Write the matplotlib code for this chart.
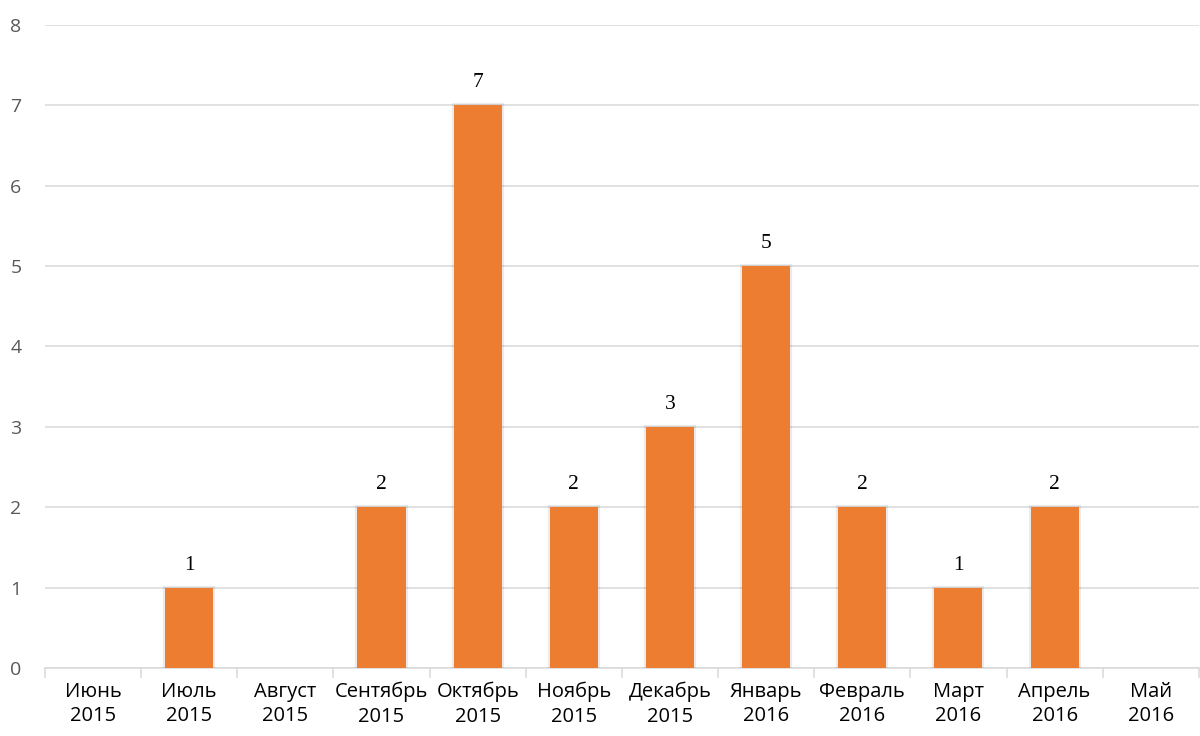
import matplotlib.pyplot as plt
import matplotlib.patheffects as pe
import numpy as np

months = ["Июнь\n2015", "Июль\n2015", "Август\n2015", "Сентябрь\n2015",
          "Октябрь\n2015", "Ноябрь\n2015", "Декабрь\n2015", "Январь\n2016",
          "Февраль\n2016", "Март\n2016", "Апрель\n2016", "Май\n2016"]
counts = [0, 1, 0, 2, 7, 2, 3, 5, 2, 1, 2, 0]
y_ticks = [0, 1, 2, 3, 4, 5, 6, 7, 8]

BAR_COLOR = "#ED7D31"
GRID_COLOR = "#D9D9D9"

fig = plt.figure(figsize=(12, 7.36), dpi=100)
ax = fig.add_axes([0.0375, 0.0924, 0.9615, 0.874])

x = np.arange(len(months))
bars = ax.bar(x, counts, width=0.5, color=BAR_COLOR, zorder=3)
# faint soft edge, like the Excel bar shadow (skip empty months)
for b, v in zip(bars, counts):
    if v > 0:
        b.set_path_effects([pe.Stroke(linewidth=3, foreground="#000000", alpha=0.08),
                            pe.Normal()])
    else:
        b.set_visible(False)

for xi, v in zip(x, counts):
    if v > 0:
        ax.text(xi, v + 0.16, str(v), ha="center", va="bottom",
                family="Liberation Serif", fontsize=15.5, color="black")

ax.set_xlim(-0.5, len(months) - 0.5)
ax.set_ylim(0, 8)
ax.set_yticks(y_ticks)
ax.yaxis.grid(True, color=GRID_COLOR, linewidth=1.1, zorder=0)
ax.set_axisbelow(True)

ax.set_xticks(x)
ax.set_xticklabels(months, family="Open Sans", fontsize=14.5, color="black",
                   linespacing=1.3)
ax.set_xticks(np.arange(len(months) + 1) - 0.5, minor=True)
ax.tick_params(axis="x", which="major", length=0, pad=10)
ax.tick_params(axis="x", which="minor", length=7, color=GRID_COLOR, width=1.1)
ax.tick_params(axis="y", length=0, pad=17, labelsize=14, labelcolor="#595959")
for lab in ax.get_yticklabels():
    lab.set_family("Open Sans")

for side in ["top", "right", "left"]:
    ax.spines[side].set_visible(False)
ax.spines["bottom"].set_color(GRID_COLOR)
ax.spines["bottom"].set_linewidth(1.1)

fig.savefig("out.png", dpi=100)
